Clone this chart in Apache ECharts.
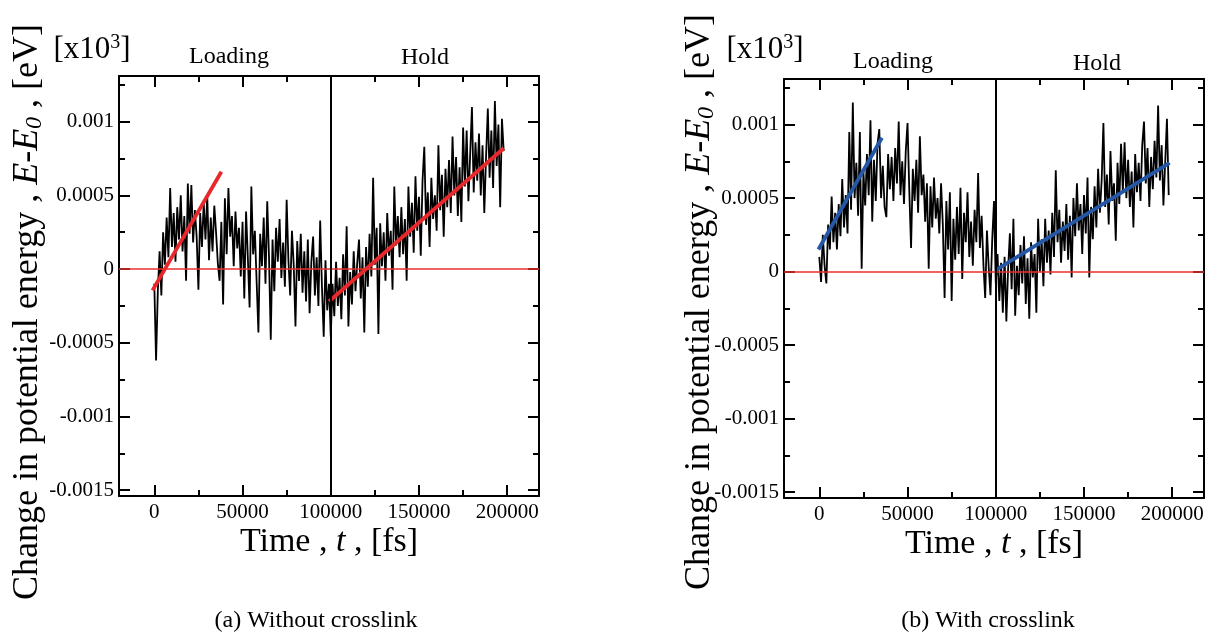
<!DOCTYPE html>
<html>
<head>
<meta charset="utf-8">
<script src="https://cdn.jsdelivr.net/npm/echarts@6/dist/echarts.min.js"></script>
<style>
html,body{margin:0;padding:0;background:#fff;}
#chart{width:1218px;height:638px;}
</style>
</head>
<body>
<div id="chart"></div>
<script>
// ---- Data (energy in units of 1e-4 eV, time in fs) ----
const timeStepFs = 1000; // sample spacing of the traces
const holdStartFs = 100000;

const xMin = -20000, xMax = 218000;
const yMin = -15.4, yMax = 13.1;
const xMajorTicks = [0, 50000, 100000, 150000, 200000];
const xMinorTicks = [25000, 75000, 125000, 175000];
const xTickLabels = ['0', '50000', '100000', '150000', '200000'];
const yMajorTicks = [-15, -10, -5, 0, 5, 10];
const yMinorTicks = [-12.5, -7.5, -2.5, 2.5, 7.5, 12.5];
const yTickLabels = ['-0.0015', '-0.001', '-0.0005', '0', '0.0005', '0.001'];

// (a) Without crosslink
const energyA_loading = [
-1.0,-6.2,-1.5,1.2,-1.8,2.5,0.3,3.5,0.8,5.5,
1.5,3.8,0.5,4.2,2.0,5.0,1.2,3.6,-0.8,5.8,
2.4,5.7,1.8,4.0,2.2,-1.4,3.8,1.5,4.5,2.0,
5.0,0.6,3.5,1.2,4.3,2.5,0.4,-0.8,3.2,-2.4,
4.8,1.0,5.5,2.2,3.6,0.2,3.9,1.4,2.8,-0.5,
3.2,-2.0,3.9,0.8,-2.6,5.6,1.0,2.6,-0.9,-4.3,
2.4,0.2,3.5,-1.0,4.6,0.8,-4.8,2.0,-1.5,2.8,
0.5,3.4,-0.6,1.8,-1.2,4.7,0.6,-1.8,2.6,0.3,
-3.9,1.9,-0.8,2.4,-1.6,1.2,-2.2,2.0,-3.0,0.5,
2.2,-1.8,0.8,-2.5,3.3,-1.2,-4.6,0.6,-2.8,-1.0
];
const energyA_hold = [
-4.6,-1.0,-3.2,0.5,-2.5,-0.6,-3.4,1.0,-1.8,2.9,
-3.9,-0.2,-2.4,1.2,-1.5,0.4,2.0,-2.0,0.8,-4.3,
1.5,-1.2,2.4,-0.5,6.2,0.3,2.8,-4.4,3.1,0.2,
2.5,-0.8,3.8,0.9,2.6,-1.4,5.6,1.6,3.6,0.8,
4.2,1.0,3.4,-0.8,5.6,2.2,4.5,1.1,6.3,2.6,
4.9,0.9,6.0,8.3,3.0,5.2,1.5,6.2,3.4,5.0,
2.6,8.4,4.0,6.4,2.2,6.8,4.2,7.4,3.8,9.0,
5.0,7.6,3.6,6.9,3.2,9.6,5.6,9.4,4.6,7.8,
11.0,5.2,8.6,6.0,9.2,5.0,8.4,3.8,7.6,10.9,
6.2,9.4,5.5,11.4,7.0,9.8,4.2,10.2,8.0
];
const fitA_loading = [[-1000, -1.45], [38000, 6.6]];
const fitA_hold = [[99000, -2.2], [198000, 8.2]];

// (b) With crosslink
const energyB_loading = [
1.0,-0.7,2.5,0.4,-0.8,3.2,1.5,5.1,2.0,4.0,
1.5,4.6,2.4,6.3,3.0,5.2,2.6,9.5,4.2,11.5,
5.0,7.4,3.8,9.5,0.2,6.8,4.5,8.0,5.2,10.3,
3.4,7.6,4.8,8.7,9.7,5.0,7.2,4.4,3.7,8.0,
5.6,7.8,4.8,8.4,6.0,10.2,5.2,7.5,4.6,8.2,
10.1,5.5,1.6,7.0,4.8,7.6,4.0,9.2,5.2,6.6,
3.4,6.0,0.2,5.8,3.0,6.4,3.6,5.0,2.6,6.0,
3.2,-1.8,4.8,1.5,5.4,-2.0,3.6,0.8,4.4,1.2,
5.7,-0.5,4.0,2.0,5.4,1.0,3.4,0.4,4.2,2.0,
6.7,1.6,3.8,0.5,-1.8,2.8,0.3,-1.6,2.2,4.8
];
const energyB_hold = [
-0.8,1.2,-2.0,0.6,-2.8,1.0,-3.4,0.2,2.6,-1.2,
3.6,-3.0,0.4,-1.6,1.8,-0.8,2.4,-2.2,0.9,-3.2,
2.0,-0.4,1.2,-2.8,3.6,0.0,2.2,-1.0,3.6,0.6,
2.8,-0.2,4.0,1.0,6.9,2.0,4.2,0.6,3.4,1.4,
4.6,0.8,3.8,-0.4,5.0,2.4,6.0,2.8,4.6,1.2,
5.2,2.6,6.4,-0.4,4.4,2.2,5.8,3.0,7.0,4.0,
6.2,10.1,4.4,6.6,3.2,8.2,4.8,6.0,2.1,7.4,
4.6,8.7,5.4,8.8,5.0,7.6,4.4,6.8,3.0,8.0,
5.4,7.4,4.8,8.6,10.2,6.0,8.4,4.4,7.8,5.6,
8.9,6.4,11.3,6.2,8.6,4.5,7.4,10.4,5.2
];
const fitB_loading = [[-500, 1.5], [35500, 9.1]];
const fitB_hold = [[100000, 0.1], [198500, 7.4]];

// ---- Build ----
const FONT = 'Liberation Serif';
const toPairs = (vals, startFs) => vals.map((v, i) => [startFs + i * timeStepFs, v]);
const nearestLabel = (ticks, labels, v) => {
  let best = 0;
  ticks.forEach((t, i) => { if (Math.abs(t - v) < Math.abs(ticks[best] - v)) best = i; });
  return labels[best];
};

const grids = [
  { left: 119, top: 76, width: 420, height: 420 },
  { left: 784, top: 79, width: 420, height: 419 }
];

const xAxes = [], yAxes = [];
const axisLineStyle = { color: '#000', width: 2 };
function addAxes(gi) {
  const base = { gridIndex: gi, type: 'value', min: xMin, max: xMax, splitLine: { show: false } };
  xAxes.push(Object.assign({}, base, {
    position: 'bottom',
    axisLine: { show: true, onZero: false, lineStyle: axisLineStyle },
    axisTick: { show: true, inside: true, length: 11, lineStyle: axisLineStyle, customValues: xMajorTicks },
    axisLabel: {
      show: true, customValues: xMajorTicks, fontFamily: FONT, fontSize: 21, color: '#000', margin: 6,
      formatter: (v) => nearestLabel(xMajorTicks, xTickLabels, v)
    }
  }));
  xAxes.push(Object.assign({}, base, {
    position: 'bottom',
    axisLine: { show: false, onZero: false },
    axisTick: { show: true, inside: true, length: 6, lineStyle: axisLineStyle, customValues: xMinorTicks },
    axisLabel: { show: false }
  }));
  xAxes.push(Object.assign({}, base, {
    position: 'top',
    axisLine: { show: true, onZero: false, lineStyle: axisLineStyle },
    axisTick: { show: true, inside: true, length: 11, lineStyle: axisLineStyle, customValues: xMajorTicks },
    axisLabel: { show: false }
  }));
  xAxes.push(Object.assign({}, base, {
    position: 'top',
    axisLine: { show: false, onZero: false },
    axisTick: { show: true, inside: true, length: 6, lineStyle: axisLineStyle, customValues: xMinorTicks },
    axisLabel: { show: false }
  }));

  const ybase = { gridIndex: gi, type: 'value', min: yMin, max: yMax, splitLine: { show: false } };
  yAxes.push(Object.assign({}, ybase, {
    position: 'left',
    axisLine: { show: true, onZero: false, lineStyle: axisLineStyle },
    axisTick: { show: true, inside: true, length: 11, lineStyle: axisLineStyle, customValues: yMajorTicks },
    axisLabel: {
      show: true, customValues: yMajorTicks, fontFamily: FONT, fontSize: 21, color: '#000', margin: 5,
      formatter: (v) => nearestLabel(yMajorTicks, yTickLabels, v)
    }
  }));
  yAxes.push(Object.assign({}, ybase, {
    position: 'left',
    axisLine: { show: false, onZero: false },
    axisTick: { show: true, inside: true, length: 6, lineStyle: axisLineStyle, customValues: yMinorTicks },
    axisLabel: { show: false }
  }));
  yAxes.push(Object.assign({}, ybase, {
    position: 'right',
    axisLine: { show: true, onZero: false, lineStyle: axisLineStyle },
    axisTick: { show: true, inside: true, length: 11, lineStyle: axisLineStyle, customValues: yMajorTicks },
    axisLabel: { show: false }
  }));
  yAxes.push(Object.assign({}, ybase, {
    position: 'right',
    axisLine: { show: false, onZero: false },
    axisTick: { show: true, inside: true, length: 6, lineStyle: axisLineStyle, customValues: yMinorTicks },
    axisLabel: { show: false }
  }));
}
addAxes(0);
addAxes(1);

function panelSeries(gi, loading, hold, fitL, fitH, fitColor) {
  const xi = gi * 4, yi = gi * 4;
  const common = { type: 'line', xAxisIndex: xi, yAxisIndex: yi, showSymbol: false, symbol: 'none', silent: true, animation: false };
  return [
    Object.assign({}, common, {
      data: toPairs(loading, 0).concat(toPairs(hold, holdStartFs)),
      lineStyle: { color: '#000', width: 1.8, join: 'miter' },
      z: 2
    }),
    Object.assign({}, common, {
      data: [],
      z: 3,
      markLine: {
        silent: true, symbol: 'none', animation: false, label: { show: false },
        data: [
          { yAxis: 0, lineStyle: { color: '#e8302c', width: 1.5, type: 'solid' } },
          { xAxis: holdStartFs, lineStyle: { color: '#000', width: 2, type: 'solid' } }
        ]
      }
    }),
    Object.assign({}, common, { data: fitL, lineStyle: { color: fitColor, width: 3.8 }, z: 4 }),
    Object.assign({}, common, { data: fitH, lineStyle: { color: fitColor, width: 3.8 }, z: 4 })
  ];
}

const series = []
  .concat(panelSeries(0, energyA_loading, energyA_hold, fitA_loading, fitA_hold, '#e8282b'))
  .concat(panelSeries(1, energyB_loading, energyB_hold, fitB_loading, fitB_hold, '#2457a6'));

const yTitle = 'Change in potential energy , {it|E}-{it|E}{sub|0} , [eV]';
const yTitleRich = {
  it: { fontFamily: FONT, fontStyle: 'italic', fontSize: 36, fill: '#000' },
  sub: { fontFamily: FONT, fontStyle: 'italic', fontSize: 24, fill: '#000', padding: [14, 0, 0, 0] }
};
const xTitle = 'Time , {it|t} , [fs]';
const xTitleRich = { it: { fontFamily: FONT, fontStyle: 'italic', fontSize: 34, fill: '#000' } };
const supRich = { sup: { fontFamily: FONT, fontSize: 20, fill: '#000', padding: [0, 0, 14, 0] } };

function txt(x, y, text, size) {
  return {
    type: 'text', x: x, y: y, silent: true,
    style: { text: text, fontFamily: FONT, fontSize: size, fill: '#000', align: 'center', verticalAlign: 'middle' }
  };
}
function richTxt(x, y, text, size, rich, rotation) {
  return {
    type: 'text', x: x, y: y, rotation: rotation || 0, silent: true,
    style: { text: text, fontFamily: FONT, fontSize: size, fill: '#000', align: 'center', verticalAlign: 'middle', rich: rich }
  };
}

const graphic = [
  richTxt(28, 312, yTitle, 36, yTitleRich, Math.PI / 2),
  richTxt(92, 50, '[x10{sup|3}]', 31, supRich),
  txt(229, 57, 'Loading', 24),
  txt(425, 58, 'Hold', 24),
  richTxt(329, 542, xTitle, 34, xTitleRich),
  txt(316, 621, '(a) Without crosslink', 24),
  richTxt(700, 302, yTitle, 36, yTitleRich, Math.PI / 2),
  richTxt(765, 50, '[x10{sup|3}]', 31, supRich),
  txt(893, 62, 'Loading', 24),
  txt(1097, 64, 'Hold', 24),
  richTxt(994, 544, xTitle, 34, xTitleRich),
  txt(988, 621, '(b) With crosslink', 24)
];

const chart = echarts.init(document.getElementById('chart'), null, { renderer: 'canvas' });
chart.setOption({
  animation: false,
  backgroundColor: '#fff',
  grid: grids,
  xAxis: xAxes,
  yAxis: yAxes,
  series: series,
  graphic: graphic
});
</script>
</body>
</html>
